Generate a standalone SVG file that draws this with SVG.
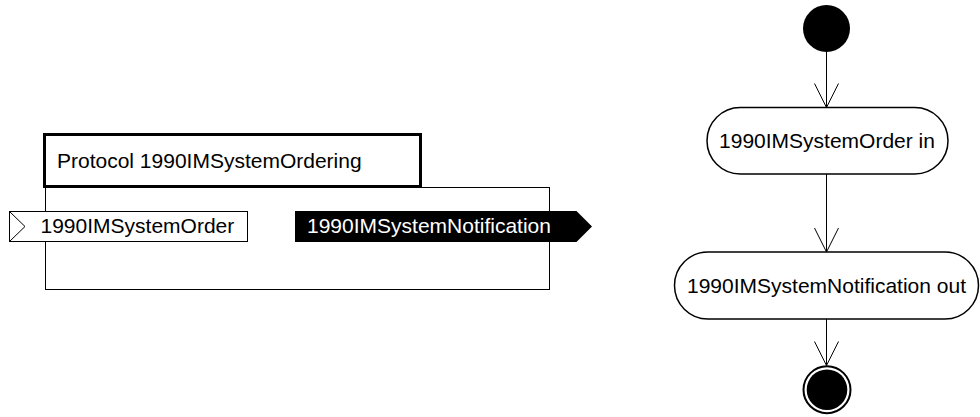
<svg xmlns="http://www.w3.org/2000/svg" width="980" height="417" viewBox="0 0 980 417">
<style>
text{font-family:"Liberation Sans",Arial,sans-serif;font-size:21px;fill:#000}
.thin{fill:none;stroke:#000;stroke-width:1}
.pill{fill:#fff;stroke:#000;stroke-width:1.5}
.edge{fill:none;stroke:#000;stroke-width:1}
</style>
<rect width="980" height="417" fill="#fff"/>
<g id="protocol">
<rect x="45.5" y="187.5" width="504" height="102" class="thin"/>
<rect x="44.5" y="134.5" width="376" height="52" fill="#fff" stroke="#000" stroke-width="3"/>
<text x="57" y="168">Protocol 1990IMSystemOrdering</text>
</g>
<g id="port-in">
<rect x="9.5" y="211.5" width="238" height="30" fill="#fff" stroke="#000" stroke-width="1"/>
<polyline points="9.5,211.5 25,226.5 9.5,241.5" class="thin"/>
<text x="40.5" y="233">1990IMSystemOrder</text>
</g>
<g id="port-out">
<polygon points="295,211 576.5,211 592,226.5 576.5,242 295,242" fill="#000"/>
<text x="307" y="233" style="fill:#fff">1990IMSystemNotification</text>
</g>
<g id="start">
<circle cx="826.5" cy="28.5" r="23.5" fill="#000"/>
</g>
<g id="act-in">
<rect x="707" y="107.5" width="241" height="66.5" rx="33.25" class="pill"/>
<text x="827" y="148" text-anchor="middle">1990IMSystemOrder in</text>
</g>
<g id="act-out">
<rect x="674.5" y="252" width="304" height="67" rx="33.5" class="pill"/>
<text x="826.5" y="293" text-anchor="middle">1990IMSystemNotification out</text>
</g>
<g id="end">
<circle cx="827" cy="389.7" r="23.5" fill="#fff" stroke="#000" stroke-width="2"/>
<circle cx="827" cy="389.7" r="20.3" fill="#000"/>
</g>
<g id="connectors">
<path d="M826.5 52 V107.5 M814.5 83.5 L826.5 107.5 L838.5 83.5" class="edge"/>
<path d="M826.5 174 V252 M814.5 228 L826.5 252 L838.5 228" class="edge"/>
<path d="M826.5 319 V365.5 M814.5 341.5 L826.5 365.5 L838.5 341.5" class="edge"/>
</g>
</svg>
